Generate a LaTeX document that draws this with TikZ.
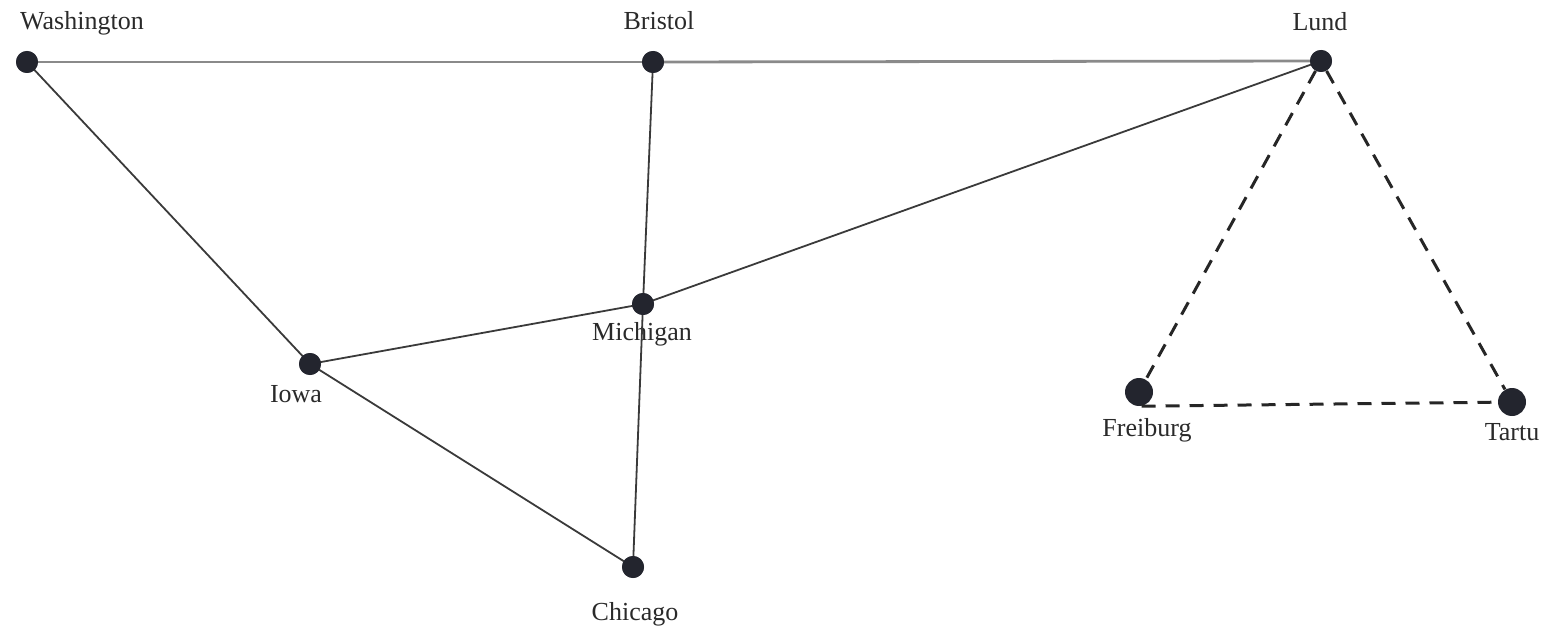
\documentclass[tikz,border=0pt]{standalone}
\usepackage{fontspec}
\setmainfont{Liberation Serif}
\begin{document}
\begin{tikzpicture}[x=0.5pt,y=-0.5pt,
  dot/.style={circle,fill=dotc,inner sep=0pt,minimum size=11pt},
  bigdot/.style={circle,fill=dotc,inner sep=0pt,minimum size=14pt},
  lbl/.style={anchor=base,inner sep=0pt,text=txtc,font=\fontsize{13}{15}\selectfont},
  edge/.style={draw=edgec,line width=0.9pt},
  topedge/.style={draw=topc,line width=1.4pt},
  dashedge/.style={draw=black!85,line width=1.5pt,dash pattern=on 7pt off 5pt}]
\definecolor{dotc}{HTML}{23252E}
\definecolor{txtc}{HTML}{2A2A2A}
\definecolor{edgec}{HTML}{3A3A3A}
\definecolor{topc}{HTML}{8A8A8A}
\useasboundingbox (0,0) rectangle (1542,626);
% dots
\node[dot] (W) at (27,62) {};
\node[dot] (B) at (653,62) {};
\node[dot] (L) at (1321,61) {};
\node[dot] (M) at (643,304) {};
\node[dot] (I) at (310,364) {};
\node[dot] (C) at (633,567) {};
\node[bigdot] (F) at (1139,392) {};
\node[bigdot] (T) at (1512,402) {};
% labels
\node[lbl] (Wl) at (82,30) {Washington};
\node[lbl] (Bl) at (659,30) {Bristol};
\node[lbl] (Ll) at (1320,31) {Lund};
\node[lbl] (Ml) at (642,340) {Michigan};
\node[lbl] (Il) at (296,402) {Iowa};
\node[lbl] (Cl) at (635,620) {Chicago};
\node[lbl] (Fl) at (1147,436) {Freiburg};
\node[lbl] (Tl) at (1512,440) {Tartu};
% edges
\begin{scope}[on background layer/.style={}]
\draw[topedge] (W.center) -- (B.center);
\draw[topedge] (B.center) -- (L.center);
\draw[edge] (W.center) -- (I.center);
\draw[edge] (B.center) -- (M.center);
\draw[edge] (L.center) -- (M.center);
\draw[edge] (I.center) -- (M.center);
\draw[edge] (I.center) -- (C.center);
\draw[edge] (M.center) -- (C.center);
\draw[dashedge] (L) -- (F);
\draw[dashedge] (L) -- (T);
\draw[dashedge] (F.-80) -- (T);
\end{scope}
% redraw dots on top
\fill[dotc] (W) circle (5.5pt);
\fill[dotc] (B) circle (5.5pt);
\fill[dotc] (L) circle (5.5pt);
\fill[dotc] (M) circle (5.5pt);
\fill[dotc] (I) circle (5.5pt);
\fill[dotc] (C) circle (5.5pt);
\end{tikzpicture}
\end{document}
